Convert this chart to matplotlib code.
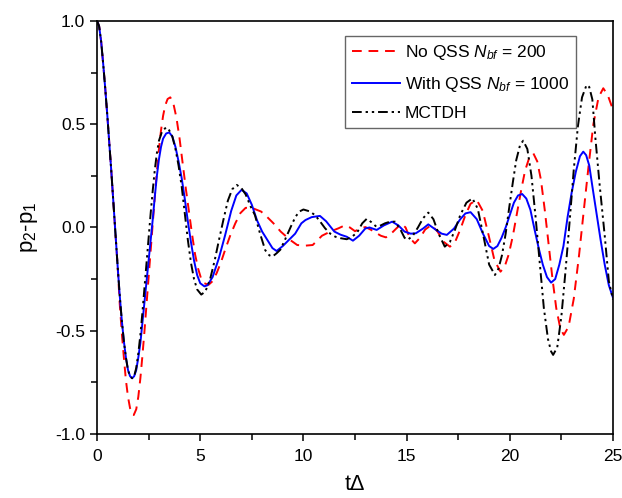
import numpy as np
import matplotlib
matplotlib.use("Agg")
import matplotlib.pyplot as plt
from matplotlib.ticker import MultipleLocator

plt.rcParams.update({
    "font.family": ["Liberation Sans", "DejaVu Sans"],
    "mathtext.fontset": "custom",
    "mathtext.rm": "Liberation Sans",
    "mathtext.it": "Liberation Sans:italic",
})

# ---------------- data ----------------
t_start = [0, 0.1, 0.2, 0.3, 0.4, 0.5, 0.6, 0.7, 0.8, 0.9, 1.0]
y_start = [1.0, 0.975, 0.9, 0.79, 0.67, 0.54, 0.4, 0.26, 0.11, -0.04, -0.19]

t_noqss = t_start + [
    1.1, 1.2, 1.3, 1.4, 1.5, 1.6, 1.7, 1.78, 1.9, 2.0, 2.1, 2.2, 2.3, 2.4, 2.5, 2.6,
    2.7, 2.8, 2.9, 3.0, 3.1, 3.2, 3.3, 3.42, 3.55, 3.7, 3.85, 4.0, 4.15, 4.3, 4.45,
    4.6, 4.75, 4.9, 5.05, 5.2, 5.4, 5.6, 5.8, 6.0, 6.2, 6.45, 6.7, 6.95, 7.2, 7.5,
    7.95, 8.25, 8.55, 8.9, 9.35, 9.7, 10.1, 10.45, 10.7, 10.9, 11.3, 11.7, 12.0,
    12.25, 12.5, 12.75, 13.0, 13.25, 13.5, 13.75, 14.0, 14.25, 14.5, 14.75, 14.95,
    15.15, 15.4, 15.65, 15.9, 16.2, 16.5, 16.8, 17.1, 17.35, 17.6, 17.85, 18.1,
    18.4, 18.69, 18.98, 19.26, 19.55, 19.75, 19.95, 20.15, 20.35, 20.55, 20.74,
    20.95, 21.14, 21.33, 21.51, 21.7, 21.88, 22.07, 22.25, 22.45, 22.62, 22.85,
    23.1, 23.35, 23.58, 23.82, 24.05, 24.3, 24.53, 24.75, 25.0]
y_noqss = y_start + [
    -0.37, -0.51, -0.63, -0.74, -0.82, -0.875, -0.905, -0.908, -0.88, -0.82, -0.73,
    -0.62, -0.5, -0.37, -0.24, -0.11, 0.02, 0.15, 0.27, 0.38, 0.47, 0.54, 0.59,
    0.622, 0.63, 0.6, 0.53, 0.43, 0.31, 0.19, 0.08, -0.03, -0.13, -0.2, -0.25,
    -0.27, -0.278, -0.26, -0.22, -0.17, -0.11, -0.04, 0.02, 0.07, 0.095, 0.095,
    0.077, 0.05, 0.02, -0.02, -0.06, -0.085, -0.088, -0.085, -0.06, -0.04, -0.02,
    -0.004, 0.01, 0.0, -0.018, -0.005, 0.002, -0.01, -0.025, -0.04, -0.048, -0.03,
    -0.005, 0.018, 0.0, -0.05, -0.077, -0.05, -0.01, 0.012, -0.02, -0.07, -0.093,
    -0.07, -0.01, 0.06, 0.115, 0.133, 0.08, -0.04, -0.16, -0.214, -0.19, -0.13,
    -0.04, 0.07, 0.18, 0.275, 0.34, 0.359, 0.32, 0.23, 0.08, -0.08, -0.25, -0.39,
    -0.49, -0.52, -0.48, -0.345, -0.14, 0.077, 0.3, 0.5, 0.63, 0.674, 0.64, 0.57]

t_qss = t_start + [
    1.1, 1.2, 1.3, 1.4, 1.5, 1.6, 1.7, 1.8, 1.9, 2.0, 2.1, 2.2, 2.3, 2.4, 2.5, 2.6,
    2.7, 2.8, 2.9, 3.0, 3.1, 3.2, 3.35, 3.5, 3.65, 3.8, 3.95, 4.1, 4.25, 4.4, 4.55,
    4.7, 4.85, 5.0, 5.2, 5.35, 5.6, 5.9, 6.2, 6.5, 6.75, 7.0, 7.25, 7.5, 7.75, 8.0,
    8.25, 8.5, 8.7, 9.0, 9.3, 9.6, 9.9, 10.1, 10.4, 10.8, 11.1, 11.5, 11.8, 12.1,
    12.4, 12.7, 13.0, 13.2, 13.55, 13.9, 14.3, 14.6, 14.9, 15.2, 15.45, 15.8,
    16.05, 16.4, 16.7, 16.95, 17.3, 17.6, 17.85, 18.1, 18.4, 18.7, 19.0, 19.2,
    19.4, 19.6, 19.8, 20.0, 20.2, 20.4, 20.6, 20.8, 21.0, 21.2, 21.4, 21.6, 21.8,
    22.0, 22.2, 22.4, 22.6, 22.8, 23.0, 23.2, 23.4, 23.56, 23.7, 23.85, 24.0, 24.2,
    24.4, 24.6, 24.8, 25.0]
y_qss = y_start + [
    -0.33, -0.45, -0.55, -0.63, -0.69, -0.72, -0.73, -0.72, -0.69, -0.63, -0.56,
    -0.46, -0.36, -0.26, -0.16, -0.06, 0.04, 0.15, 0.25, 0.33, 0.39, 0.43, 0.455,
    0.46, 0.44, 0.39, 0.32, 0.24, 0.14, 0.03, -0.07, -0.16, -0.23, -0.27, -0.285,
    -0.28, -0.24, -0.15, -0.04, 0.08, 0.155, 0.182, 0.165, 0.11, 0.035, -0.02,
    -0.06, -0.1, -0.114, -0.09, -0.06, -0.03, 0.02, 0.036, 0.05, 0.056, 0.03, -0.02,
    -0.035, -0.045, -0.064, -0.04, -0.005, 0.0, -0.012, 0.01, 0.028, 0.01, -0.02,
    -0.03, -0.028, -0.005, 0.015, -0.01, -0.03, -0.036, -0.005, 0.04, 0.068, 0.074,
    0.04, -0.03, -0.09, -0.104, -0.09, -0.05, 0.0, 0.06, 0.12, 0.155, 0.162, 0.14,
    0.085, -0.01, -0.1, -0.18, -0.24, -0.267, -0.25, -0.18, -0.09, 0.05, 0.17, 0.27,
    0.345, 0.367, 0.35, 0.3, 0.2, 0.07, -0.06, -0.18, -0.28, -0.34]

t_mctdh = t_start + [
    1.1, 1.2, 1.3, 1.4, 1.5, 1.6, 1.7, 1.8, 1.9, 2.0, 2.1, 2.2, 2.3, 2.4, 2.5, 2.6,
    2.7, 2.8, 2.9, 3.0, 3.15, 3.35, 3.5, 3.65, 3.8, 3.95, 4.1, 4.25, 4.4, 4.55, 4.7,
    4.85, 5.05, 5.25, 5.48, 5.7, 5.91, 6.13, 6.34, 6.55, 6.77, 7.0, 7.2, 7.45, 7.65,
    7.9, 8.15, 8.35, 8.5, 8.7, 8.88, 9.06, 9.25, 9.44, 9.63, 9.82, 10.0, 10.3, 10.56,
    10.8, 11.05, 11.3, 11.55, 11.8, 12.1, 12.35, 12.6, 12.85, 13.07, 13.3, 13.53,
    13.75, 13.95, 14.2, 14.44, 14.7, 14.9, 15.05, 15.3, 15.55, 15.8, 16.05, 16.3,
    16.55, 16.85, 17.1, 17.35, 17.6, 17.9, 18.19, 18.45, 18.73, 19.0, 19.28, 19.45,
    19.62, 19.8, 19.97, 20.15, 20.31, 20.5, 20.65, 20.85, 21.05, 21.25, 21.45,
    21.65, 21.85, 22.0, 22.1, 22.3, 22.5, 22.7, 22.9, 23.1, 23.3, 23.5, 23.72,
    23.85, 24.0, 24.15, 24.35, 24.6, 24.8, 25.0]
y_mctdh = y_start + [
    -0.33, -0.45, -0.55, -0.63, -0.69, -0.72, -0.73, -0.72, -0.68, -0.61, -0.52,
    -0.41, -0.29, -0.17, -0.05, 0.07, 0.18, 0.28, 0.36, 0.42, 0.465, 0.485, 0.47,
    0.44, 0.38, 0.3, 0.2, 0.07, -0.06, -0.17, -0.25, -0.3, -0.325, -0.31, -0.25,
    -0.16, -0.06, 0.04, 0.13, 0.185, 0.206, 0.19, 0.16, 0.1, 0.06, -0.03, -0.11,
    -0.135, -0.141, -0.125, -0.108, -0.07, -0.027, 0.015, 0.054, 0.078, 0.087,
    0.078, 0.06, 0.03, -0.004, -0.03, -0.045, -0.052, -0.057, -0.045, -0.025, 0.02,
    0.042, 0.025, 0.004, 0.01, 0.02, 0.028, 0.028, -0.01, -0.05, -0.06, -0.04, 0.0,
    0.045, 0.072, 0.04, -0.03, -0.093, -0.07, -0.01, 0.06, 0.12, 0.141, 0.09,
    -0.045, -0.18, -0.23, -0.2, -0.135, -0.03, 0.095, 0.22, 0.325, 0.4, 0.42, 0.38,
    0.25, 0.05, -0.17, -0.39, -0.54, -0.6, -0.617, -0.58, -0.43, -0.21, 0.03, 0.28,
    0.49, 0.63, 0.69, 0.68, 0.62, 0.43, 0.21, -0.04, -0.26, -0.35]

labels = [r"No QSS $N_{bf}$ = 200", r"With QSS $N_{bf}$ = 1000", "MCTDH"]

# ---------------- figure ----------------
fig = plt.figure(figsize=(6.22, 4.98), dpi=100)
ax = fig.add_axes([0.156, 0.1285, 0.8295, 0.8295])

ax.plot(t_noqss, y_noqss, color="#ff0000", lw=1.4, dashes=(5, 3.5), label=labels[0])
ax.plot(t_qss, y_qss, color="#0000ff", lw=1.4, label=labels[1])
ax.plot(t_mctdh, y_mctdh, color="black", lw=1.4,
        dashes=(5, 2, 1.2, 2, 1.2, 2), label=labels[2])

ax.set_xlim(0, 25)
ax.set_ylim(-1.0, 1.0)
ax.xaxis.set_major_locator(MultipleLocator(5))
ax.xaxis.set_minor_locator(MultipleLocator(2.5))
ax.yaxis.set_major_locator(MultipleLocator(0.5))
ax.yaxis.set_minor_locator(MultipleLocator(0.25))
ax.yaxis.set_major_formatter(plt.FormatStrFormatter("%.1f"))
ax.tick_params(which="both", direction="out", top=False, right=False,
               labelsize=12.5, width=1.1)
ax.tick_params(which="major", length=5)
ax.tick_params(which="minor", length=4)
ax.tick_params(axis="x", pad=6)
for s in ax.spines.values():
    s.set_linewidth(1.2)

ax.set_xlabel("t\u0394", fontsize=15.5, labelpad=7)
ax.set_ylabel(r"p$_2$-p$_1$", fontsize=16, labelpad=11)

leg = ax.legend(loc="upper right", bbox_to_anchor=(0.928, 0.963), fontsize=12.5,
                handlelength=2.75, fancybox=False, framealpha=1,
                edgecolor="#666666", borderpad=0.4, labelspacing=0.72,
                handletextpad=0.3, borderaxespad=0)
leg.get_frame().set_linewidth(1.0)

plt.savefig("out.png", dpi=100)
